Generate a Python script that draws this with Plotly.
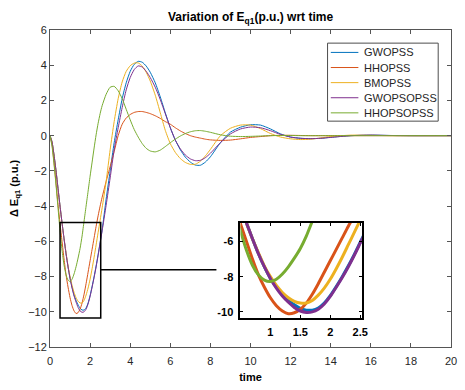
import plotly.graph_objects as go

# ---------------- data ----------------
t = [0, 0.1, 0.2, 0.3, 0.4, 0.5, 0.6, 0.7, 0.8, 0.9, 1.0, 1.1, 1.2, 1.3, 1.4, 1.5,
     1.6, 1.7, 1.8, 1.9, 2.0, 2.1, 2.2, 2.3, 2.4, 2.5, 2.6, 2.8, 3.0, 3.2, 3.4, 3.6,
     3.8, 4.0, 4.2, 4.4, 4.6, 4.8, 5.0, 5.25, 5.5, 5.75, 6.0, 6.25, 6.5, 6.75, 7.0,
     7.25, 7.5, 7.75, 8.0, 8.5, 9.0, 9.5, 10.0, 10.5, 11.0, 11.5, 12.0, 12.5, 13.0,
     13.5, 14.0, 15.0, 16.0, 17.0, 18.0, 20.0]

gwopss = [0, -0.35, -1.1, -2.0, -3.0, -4.0, -4.95, -5.85, -6.7, -7.45, -8.1, -8.6,
          -9.05, -9.35, -9.6, -9.8, -9.9, -9.9, -9.78, -9.5, -9.08, -8.56, -8.0,
          -7.4, -6.75, -6.05, -5.35, -3.6, -2.0, -0.4, 0.9, 2.1, 3.0, 3.65, 4.05,
          4.22, 4.17, 3.95, 3.6, 3.0, 2.2, 1.3, 0.45, -0.25, -0.8, -1.22, -1.5,
          -1.67, -1.68, -1.5, -1.2, -0.4, 0.2, 0.48, 0.62, 0.6, 0.38, 0.1, -0.08,
          -0.15, -0.17, -0.15, -0.09, 0.0, 0.03, 0.01, 0.0, 0.0]

hhopss = [0, -0.5, -1.5, -2.7, -3.9, -5.0, -6.0, -7.0, -7.9, -8.6, -9.2, -9.65,
          -9.95, -10.1, -10.05, -9.85, -9.5, -9.0, -8.4, -7.75, -7.1, -6.45, -5.8,
          -5.15, -4.55, -4.0, -3.5, -2.6, -1.75, -0.9, 0.0, 0.65, 1.0, 1.2, 1.32,
          1.37, 1.37, 1.32, 1.25, 1.13, 0.98, 0.8, 0.65, 0.45, 0.27, 0.12, 0.0,
          -0.08, -0.14, -0.2, -0.24, -0.27, -0.25, -0.18, -0.1, -0.05, 0.0, 0.02,
          0.02, 0.01, 0.0, 0.0, 0.0, 0.0, 0.0, 0.0, 0.0, 0.0]

bmopss = [0, -0.35, -1.1, -2.0, -3.0, -4.0, -4.95, -5.85, -6.65, -7.4, -8.0, -8.5,
          -8.9, -9.2, -9.4, -9.5, -9.5, -9.35, -9.05, -8.65, -8.15, -7.55, -6.9,
          -6.2, -5.5, -4.8, -4.1, -2.6, -0.8, 0.8, 2.1, 3.05, 3.65, 3.97, 4.12,
          4.13, 3.95, 3.6, 3.1, 2.3, 1.3, 0.3, -0.45, -0.95, -1.3, -1.52, -1.63,
          -1.62, -1.45, -1.15, -0.78, 0.0, 0.42, 0.6, 0.6, 0.4, 0.12, -0.08, -0.18,
          -0.22, -0.2, -0.13, -0.05, 0.03, 0.02, 0.0, 0.0, 0.0]

gwopsopss = [0, -0.35, -1.1, -2.0, -3.0, -4.0, -4.95, -5.85, -6.7, -7.45, -8.1,
             -8.65, -9.1, -9.45, -9.75, -9.95, -10.03, -10.0, -9.85, -9.55, -9.12,
             -8.6, -8.05, -7.45, -6.8, -6.1, -5.4, -3.95, -2.4, -0.8, 0.45, 1.6,
             2.6, 3.3, 3.75, 3.96, 3.9, 3.65, 3.3, 2.75, 2.05, 1.25, 0.45, -0.25,
             -0.75, -1.1, -1.32, -1.42, -1.4, -1.25, -1.0, -0.4, 0.1, 0.38, 0.49,
             0.45, 0.28, 0.07, -0.08, -0.15, -0.17, -0.15, -0.1, 0.0, 0.03, 0.01,
             0.0, 0.0]

hhopsopss = [0, -0.6, -1.6, -2.8, -4.1, -5.4, -6.5, -7.35, -7.9, -8.2, -8.28,
             -8.15, -7.85, -7.44, -6.95, -6.4, -5.7, -4.85, -4.0, -3.15, -2.3,
             -1.5, -0.7, 0.05, 0.7, 1.25, 1.7, 2.35, 2.75, 2.8, 2.55, 2.1, 1.5,
             0.9, 0.35, -0.08, -0.45, -0.72, -0.87, -0.92, -0.82, -0.62, -0.4,
             -0.2, -0.02, 0.12, 0.22, 0.28, 0.29, 0.25, 0.19, 0.05, -0.03, -0.05,
             -0.04, -0.02, 0.0, 0.01, 0.01, 0.0, 0.0, 0.0, 0.0, 0.0, 0.0, 0.0,
             0.0, 0.0]

names = ["GWOPSS", "HHOPSS", "BMOPSS", "GWOPSOPSS", "HHOPSOPSS"]
series = [gwopss, hhopss, bmopss, gwopsopss, hhopsopss]
colors = ["#0072BD", "#D95319", "#EDB120", "#7E2F8E", "#77AC30"]

x_ticks = list(range(0, 21, 2))
y_ticks = list(range(-12, 7, 2))
inset_x_ticks = [1, 1.5, 2, 2.5]
inset_y_ticks = [-10, -8, -6]
zoom_x = [0.5, 2.53]
zoom_y = [-10.35, -4.93]
connector_end_x = 8.3
connector_y = -7.62

# ---------------- layout helpers (pixel geometry of the 465x390 page) ----------
W, H = 465, 390
ML, MR, MT, MB = 50, 8, 30, 39
PW, PH = W - ML - MR, H - MT - MB


def px2paper_x(px):
    return (px - ML) / PW


def px2paper_y(py):
    return (H - MB - py) / PH


# ---------------- figure ----------------
fig = go.Figure()
for n, s, c in zip(names, series, colors):
    fig.add_trace(go.Scatter(x=t, y=s, name=n, mode="lines", showlegend=False,
                             line=dict(color=c, width=1, shape="spline", smoothing=0.6),
                             xaxis="x", yaxis="y"))
for n, s, c in zip(names, series, colors):
    fig.add_trace(go.Scatter(x=t, y=s, name=n, mode="lines", showlegend=False,
                             line=dict(color=c, width=3, shape="spline", smoothing=0.6),
                             xaxis="x2", yaxis="y2"))

axcol = "#262626"
shapes = [
    dict(type="rect", xref="x", yref="y", x0=zoom_x[0], x1=zoom_x[1],
         y0=zoom_y[0], y1=zoom_y[1], line=dict(color="black", width=1.5),
         layer="above"),
    dict(type="line", xref="x", yref="y", x0=zoom_x[1], x1=connector_end_x,
         y0=connector_y, y1=connector_y, line=dict(color="black", width=1.5)),
]
annotations = []

# legend box drawn by hand so that the row spacing matches the reference
leg_left, leg_right, leg_top, leg_bottom = 331.7, 444.0, 43.3, 122.3
row0, row_step = 52.7, 15.3
shapes.append(dict(type="rect", xref="paper", yref="paper",
                   x0=px2paper_x(leg_left), x1=px2paper_x(leg_right),
                   y0=px2paper_y(leg_bottom), y1=px2paper_y(leg_top),
                   line=dict(color="#4d4d4d", width=1), fillcolor="white",
                   layer="above"))
for i, (n, c) in enumerate(zip(names, colors)):
    yy = px2paper_y(row0 + i * row_step)
    shapes.append(dict(type="line", xref="paper", yref="paper",
                       x0=px2paper_x(335), x1=px2paper_x(363), y0=yy, y1=yy,
                       line=dict(color=c, width=1), layer="above"))
    annotations.append(dict(text=n, xref="paper", yref="paper",
                            x=px2paper_x(366.5), y=yy, xanchor="left",
                            yanchor="middle", showarrow=False,
                            font=dict(size=11, color=axcol)))

fig.update_layout(
    width=W, height=H,
    margin=dict(l=ML, r=MR, t=MT, b=MB),
    paper_bgcolor="white", plot_bgcolor="white",
    font=dict(family="Liberation Sans, Arial, sans-serif", size=11, color=axcol),
    title=dict(text="<b>Variation of E<sub>q1</sub>(p.u.) wrt time</b>",
               x=0.5, xref="paper", xanchor="center",
               y=1 - 17 / 390, yref="container", yanchor="middle",
               font=dict(size=12, color="black")),
    xaxis=dict(domain=[0, 1], range=[0, 20], tickvals=x_ticks,
               showline=True, linecolor="#555", linewidth=1, mirror="ticks",
               ticks="inside", ticklen=4, tickcolor="#555", showgrid=False,
               zeroline=False, ticklabelstandoff=4,
               title=dict(text="<b>time</b>", standoff=7,
                          font=dict(size=11, color="black"))),
    yaxis=dict(domain=[0, 1], range=[-12, 6], tickvals=y_ticks,
               showline=True, linecolor="#555", linewidth=1, mirror="ticks",
               ticks="inside", ticklen=4, tickcolor="#555", showgrid=False,
               zeroline=False,
               title=dict(text="<b>Δ E<sub>q1</sub> (p.u.)</b>", standoff=7,
                          font=dict(size=11, color="black"))),
    xaxis2=dict(domain=[0.475, 0.778], anchor="y2", range=zoom_x,
                tickvals=inset_x_ticks, ticktext=["1", "1.5", "2", "2.5"],
                showline=True, linecolor="black", linewidth=2, mirror="ticks",
                ticks="inside", ticklen=3, tickcolor="black", showgrid=False,
                zeroline=False, ticklabelstandoff=3,
                tickfont=dict(size=11, color="black", weight="bold")),
    yaxis2=dict(domain=[0.0913, 0.3925], anchor="x2", range=zoom_y,
                tickvals=inset_y_ticks, ticktext=["-10", "-8", "-6"],
                showline=True, linecolor="black", linewidth=2, mirror="ticks",
                ticks="inside", ticklen=3, tickcolor="black", showgrid=False,
                zeroline=False, ticklabelstandoff=3,
                tickfont=dict(size=11, color="black", weight="bold")),
    showlegend=False,
    shapes=shapes,
    annotations=annotations,
)

fig.write_html("out.html")
